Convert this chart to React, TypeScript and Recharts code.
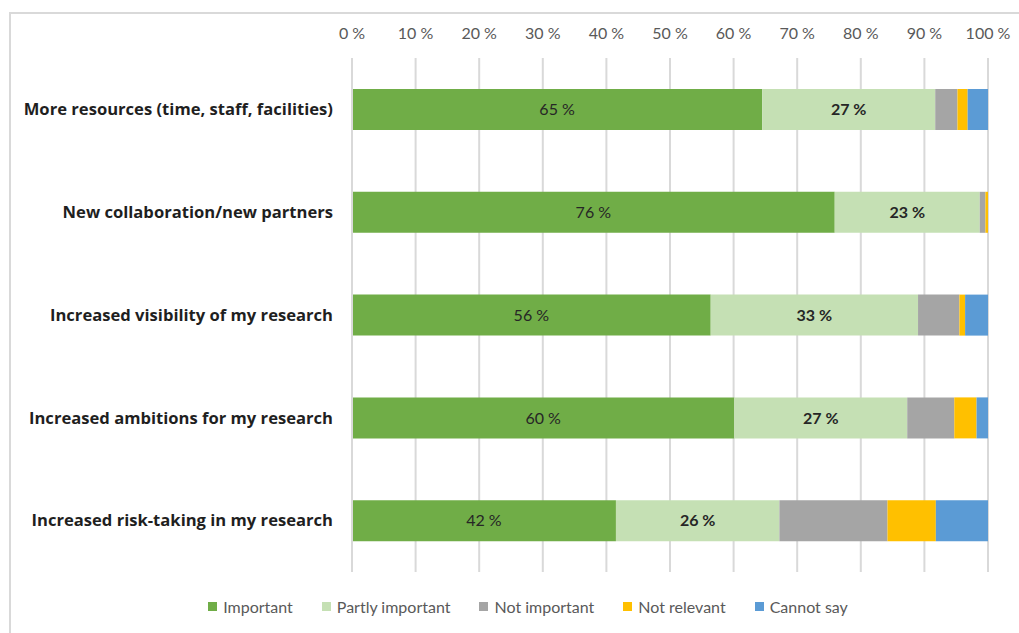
import React from "react";
import { BarChart, Bar, XAxis, YAxis, CartesianGrid, LabelList } from "recharts";

const categories = [
  "More resources (time, staff, facilities)",
  "New collaboration/new partners",
  "Increased visibility of my research",
  "Increased ambitions for my research",
  "Increased risk-taking in my research",
];
const important = [64.5, 75.9, 56.4, 60.1, 41.5];
const partly = [27.2, 22.8, 32.6, 27.2, 25.7];
const notImportant = [3.5, 0.9, 6.5, 7.4, 17.0];
const notRelevant = [1.6, 0.4, 0.9, 3.5, 7.6];
const cannotSay = [3.2, 0, 3.6, 1.8, 8.2];
const ticks = [0, 10, 20, 30, 40, 50, 60, 70, 80, 90, 100];

const series = [
  { key: "important", name: "Important", color: "#70ad47" },
  { key: "partly", name: "Partly important", color: "#c5e0b4" },
  { key: "notImportant", name: "Not important", color: "#a5a5a5" },
  { key: "notRelevant", name: "Not relevant", color: "#ffc000" },
  { key: "cannotSay", name: "Cannot say", color: "#5b9bd5" },
];

const data = categories.map((name, i) => ({
  name,
  important: important[i],
  partly: partly[i],
  notImportant: notImportant[i],
  notRelevant: notRelevant[i],
  cannotSay: cannotSay[i],
}));

const font = "Lato, 'Open Sans', sans-serif";
const pct = (v: any) => `${Math.round(Number(v))} %`;

function LegendBox() {
  return (
    <div
      style={{
        position: "absolute",
        left: 178,
        top: 597,
        width: 700,
        display: "flex",
        justifyContent: "center",
        gap: 29,
        fontFamily: font,
        fontSize: 16,
        color: "#595959",
      }}
    >
      {series.map((s) => (
        <div key={s.key} style={{ display: "flex", alignItems: "center" }}>
          <span style={{ width: 9, height: 9, background: s.color, marginRight: 6, display: "inline-block" }} />
          {s.name}
        </div>
      ))}
    </div>
  );
}

export default function App() {
  return (
    <div style={{ position: "fixed", left: 0, top: 0, width: 1019, height: 633, overflow: "hidden", background: "#fff" }}>
      <div style={{ position: "absolute", left: 9, top: 12, width: 1040, height: 660, border: "2px solid #d9d9d9" }} />
      <div style={{ position: "absolute", left: 0, top: 0 }}>
        <BarChart
          width={1019}
          height={633}
          data={data}
          layout="vertical"
          margin={{ top: 18, right: 31, bottom: 61, left: 0 }}
          barSize={41}
        >
          <CartesianGrid horizontal={false} stroke="#d9d9d9" strokeWidth={2} />
          <XAxis
            type="number"
            orientation="top"
            domain={[0, 100]}
            ticks={ticks}
            tickFormatter={(v) => `${v} %`}
            axisLine={false}
            tickLine={false}
            tickSize={0}
            tickMargin={19}
            height={40}
            tick={{ fill: "#595959", fontSize: 16, fontFamily: font }}
          />
          <YAxis
            type="category"
            dataKey="name"
            width={352}
            axisLine={{ stroke: "#d9d9d9", strokeWidth: 2 }}
            tickLine={false}
            tickSize={0}
            tickMargin={19}
            tick={{ fill: "#1f1f1f", fontSize: 16.6, fontWeight: 700, fontFamily: "'Open Sans', sans-serif" }}
          />
          {series.map((s) => (
            <Bar key={s.key} dataKey={s.key} name={s.name} stackId="a" fill={s.color} isAnimationActive={false}>
              {s.key === "important" && (
                <LabelList dataKey={s.key} position="center" formatter={pct} fill="#262626" fontSize={16} fontFamily={font} />
              )}
              {s.key === "partly" && (
                <LabelList dataKey={s.key} position="center" formatter={pct} fill="#262626" fontSize={16} fontWeight={700} fontFamily={font} />
              )}
            </Bar>
          ))}
        </BarChart>
      </div>
      <LegendBox />
    </div>
  );
}
